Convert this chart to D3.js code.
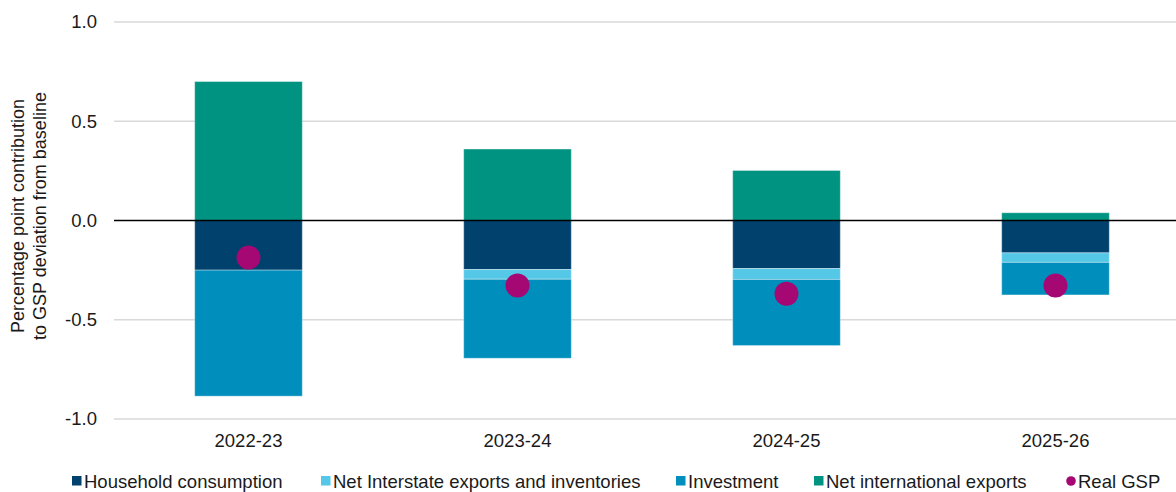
<!DOCTYPE html>
<meta charset="utf-8">
<style>
body { margin: 0; background: #fff; }
text { font-family: "Liberation Sans", Arial, sans-serif; fill: #1a1a1a; }
</style>
<script src="https://d3js.org/d3.v7.min.js"></script>
<body>
<script>

var width = 1176
var height = 492

var years = ['2022-23', '2023-24', '2024-25', '2025-26']
var household = [-0.25, -0.247, -0.242, -0.163]
var interstate = [0.0, -0.049, -0.055, -0.048]
var investment = [-0.635, -0.398, -0.333, -0.164]
var intlExports = [0.70, 0.36, 0.252, 0.039]
var realGSP = [-0.186, -0.327, -0.369, -0.327]
var yTicks = [-1.0, -0.5, 0.0, 0.5, 1.0]

var seriesNames = ['Household consumption', 'Net Interstate exports and inventories', 'Investment', 'Net international exports']
var colours = ['#00416E', '#55C8E8', '#008FBC', '#009381']
var gspColour = '#A50773'
var fs = '18.5px'

var svg = d3.select('body').append('svg').attr('width', width).attr('height', height)

var x = d3.scaleBand().domain(years).range([114, 1190]).paddingInner(0.6).paddingOuter(0.3)
var y = d3.scaleLinear().domain([-1, 1]).range([419, 22])

// gridlines
svg.append('g')
  .selectAll('line')
  .data(yTicks.filter(d => d != 0))
  .enter().append('line')
  .attr('x1', 114).attr('x2', width)
  .attr('y1', d => y(d)).attr('y2', d => y(d))
  .attr('stroke', '#D9D9D9').attr('stroke-width', 1.3)

// y tick labels (hyphen minus like the original)
svg.append('g')
  .selectAll('text')
  .data(yTicks)
  .enter().append('text')
  .attr('x', 97).attr('y', d => y(d)).attr('dy', '.35em')
  .attr('text-anchor', 'end')
  .style('font-size', fs)
  .text(d => d.toFixed(1))

// stack: positives up, negatives down
var series = [household, interstate, investment, intlExports]
var rects = []
years.forEach((yr, i) => {
  var pos = 0, neg = 0
  series.forEach((s, k) => {
    var v = s[i]
    if (v >= 0) { rects.push({yr: yr, k: k, y0: pos, y1: pos + v}); pos += v }
    else { rects.push({yr: yr, k: k, y0: neg + v, y1: neg}); neg += v }
  })
})

svg.append('g')
  .selectAll('rect')
  .data(rects.filter(d => d.y1 - d.y0 > 0))
  .enter().append('rect')
  .attr('x', d => x(d.yr))
  .attr('width', x.bandwidth())
  .attr('y', d => y(d.y1))
  .attr('height', d => y(d.y0) - y(d.y1))
  .attr('fill', d => colours[d.k])
  .attr('stroke', 'rgba(255,255,255,0.35)')
  .attr('stroke-width', 1)

// zero line
svg.append('line')
  .attr('x1', 114).attr('x2', width)
  .attr('y1', y(0)).attr('y2', y(0))
  .attr('stroke', '#000').attr('stroke-width', 1.6)

// real GSP dots
svg.append('g')
  .selectAll('circle')
  .data(realGSP)
  .enter().append('circle')
  .attr('cx', (d, i) => x(years[i]) + x.bandwidth() / 2)
  .attr('cy', d => y(d))
  .attr('r', 12)
  .attr('fill', gspColour)

// x labels
svg.append('g')
  .selectAll('text')
  .data(years)
  .enter().append('text')
  .attr('x', d => x(d) + x.bandwidth() / 2)
  .attr('y', 447)
  .attr('text-anchor', 'middle')
  .style('font-size', fs)
  .text(d => d)

// y axis title
var yt = svg.append('text')
  .attr('transform', 'translate(29,' + 216 + ') rotate(-90)')
  .attr('text-anchor', 'middle')
  .style('font-size', '18px')
yt.append('tspan').attr('x', 0).attr('dy', '-0.28em').text('Percentage point contribution')
yt.append('tspan').attr('x', 0).attr('dy', '1.2em').text('to GSP deviation from baseline')

// legend
var legX = [72, 321, 676, 814]
var leg = svg.append('g')
seriesNames.forEach((n, k) => {
  leg.append('rect').attr('x', legX[k]).attr('y', 476).attr('width', 9.5).attr('height', 9.5).attr('fill', colours[k])
  leg.append('text').attr('x', legX[k] + 12).attr('y', 487.5).style('font-size', fs).text(n)
})
leg.append('circle').attr('cx', 1071).attr('cy', 481).attr('r', 4.8).attr('fill', gspColour)
leg.append('text').attr('x', 1078).attr('y', 487.5).style('font-size', fs).text('Real GSP')

</script>
